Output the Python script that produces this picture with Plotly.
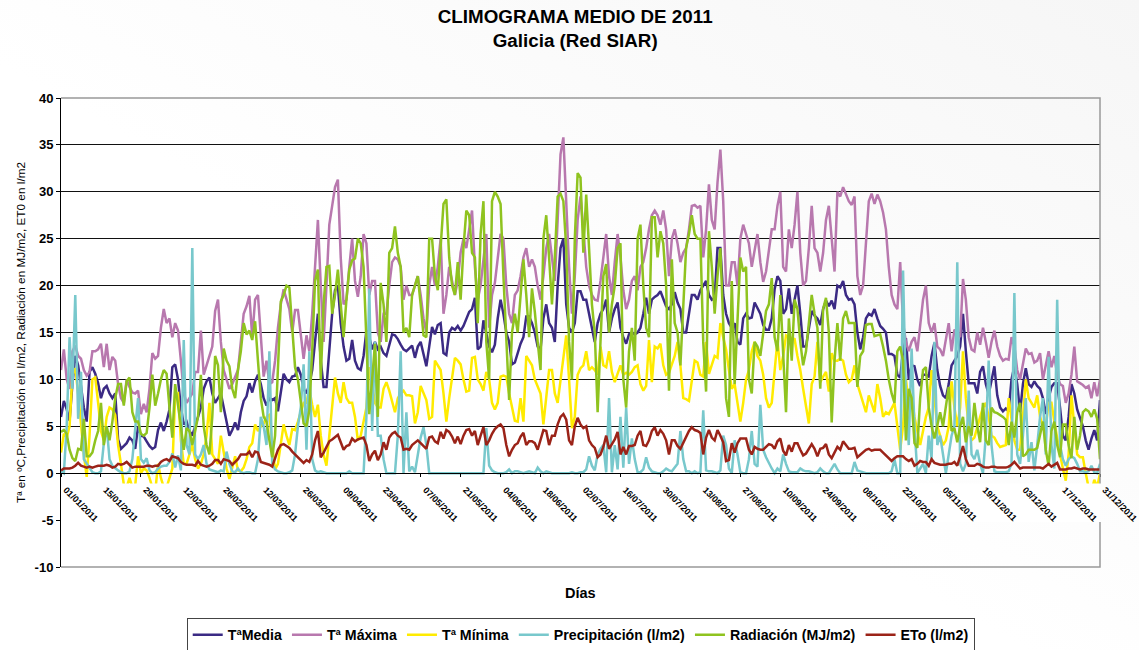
import base64
import pandas as pd
import plotly.graph_objects as go

DAYS = [d.strftime("%Y-%m-%d") for d in pd.date_range("2011-01-01", "2011-12-31")]
Y_TICKS = [-10, -5, 0, 5, 10, 15, 20, 25, 30, 35, 40]
Y_LABELS = ["-10", "-5", "0", "5", "10", "15", "20", "25", "30", "35", "40"]

MEDIA = [
6.0,7.7,6.8,5.6,9.5,12.5,11.5,9.0,7.0,5.5,10.8,11.3,10.6,9.6,
8.0,9.0,9.3,8.5,8.0,8.5,3.6,2.6,2.9,3.2,3.8,3.5,2.6,5.0,
4.0,3.9,3.4,2.9,2.6,2.8,4.6,5.4,4.5,5.5,6.8,11.3,11.6,10.0,
7.0,5.2,5.5,4.5,4.0,5.0,6.0,7.0,9.0,9.8,10.2,8.5,7.5,8.0,
8.5,7.0,5.5,4.0,4.6,5.4,4.6,6.5,7.7,8.2,9.6,8.6,9.8,10.5,
9.5,8.0,7.2,8.0,7.8,8.0,6.6,8.5,10.6,10.0,9.7,10.3,10.4,11.3,
10.5,9.0,8.5,9.5,11,14,17,12,9.2,9.2,13,17,19.5,20,
16,13.5,12,12.2,14.2,12,11.2,11,12.5,15.2,14.5,13.2,14,13.2,
13.5,12.8,12.5,13.8,14.8,14.7,14.3,13.7,13.2,13,13.3,13.6,12.3,13.5,
14,12.5,11.4,13.5,15.6,14.8,15.8,16,12.8,12.6,15,15.5,15.3,15.7,
15.2,15.7,16.5,17.2,17.5,18.7,13.2,13.5,16.3,15,13.5,12.9,13.7,16.5,
18.5,17,15,14,11.6,11.8,12.8,13.8,14.5,16.7,16.7,16,15,13.5,
13.2,16.5,18,16,15.5,14,20,24,25,18,15.5,15,16,19.4,
19.4,18.5,18.5,17,15.5,14,16,17,17.5,18.5,15,16.5,17.5,18.2,
15.5,14.5,13.8,14.8,15,14.8,15,15.5,17,18.7,17,18.5,18.8,19,
19.4,18.5,17.8,17.5,18,19.3,18.2,17.5,15,15,17,19,19,18.5,
19.5,20,20.5,19,18.5,18.7,24,24,19,17,16,15.5,16,14,
13.7,16.5,17,16.5,16.6,18.2,17.6,17,15.8,15.3,15.3,16.5,19.6,21,
20.5,17,17.5,19.7,17,18.5,20,17,13.5,13.5,15.5,17.3,16.8,16.5,
15.8,17.5,18.4,17.8,18.4,17.5,20,19.8,20.5,19,18.5,18.6,18,15,
13.2,14.5,16.5,17,16.8,17.5,16.5,15.7,15.4,15,12.7,12.7,12.5,10.5,
10.2,13,14.4,10,11.5,11.4,10,9.3,10.5,10.5,10.3,12.5,13.9,11,
9.3,8.3,8,9.5,11.5,12,12.5,13.5,17,13,9.6,9.6,9.6,8.5,
10.8,11.4,9.5,8.4,9.8,11.4,8.3,7,6.6,6.9,6.6,10,11.4,9.5,
6.5,9.5,11.2,9.5,9.2,9.8,9.3,9,8,6.3,8,9.2,9.6,9.6,
7,4,3.5,6,9.5,8.5,6.8,6,5,3.5,2.5,3.7,4.6,3.5,
7.8]

MAXIMA = [
11,13.2,10,9,13,13.6,12.5,12.2,11,10.4,10.8,13,13,13.2,
13.8,11.3,13.8,11,12.4,12,9.5,8,7.5,10,9.2,8.6,8.5,8.8,
6.3,7.4,6.5,9,12.8,12.2,12.5,15.5,17.5,16,16.5,14.5,16,15.2,
12,8.5,7.5,8,8.5,10.8,10.8,15.2,10.5,11.5,12.5,13.5,17.3,18.5,
14,11,10,9,9.5,10.2,11,14,17,17.8,18.9,14.5,18.5,19,
14,10.3,12,9.5,9.7,12,15.5,18,19.6,18.5,17.5,15,17.4,17.4,
15,12.2,14.7,13,17,21.5,27,20,14,20,26.5,28.5,30.5,31.3,
23,18,18.5,22,25,20.5,18.8,21,25.5,24.5,19,20.5,20.5,15,
14,17,17,20,22.5,23,22.8,22,18.5,20,19,19,20,21,
19,16.5,15,20,22,20,22,25,17,19,22,20.5,19,20.5,
23.5,25,24,26,28,22,18.5,20,23,25.5,15.5,19,20.3,23,
25.5,25,20,17,16,19,19.5,21,23,24,22,22.8,22,20,
18.5,21,24,25.5,23,20.5,27,34,35.8,29,22,17,21,27,
29.5,26,22,20,19,18.5,18.4,20.5,23,25.5,21,19,22.5,25.5,
23,19.5,17.5,18.5,20.5,21,19.5,22,22.5,24,26,27.5,28,27.5,
26.5,28,26,21,25,26,24.5,22.5,23.5,24,26,28.5,28.6,28.3,
28.5,23,26,30.8,27,26,31,34.5,29,20,20,22.5,22.5,20,
25,26.5,25.5,24.5,22,24,25.5,22.5,20.4,21.5,24,26,26,28.5,
30,22,21.5,26,24,26.5,30,23.5,20,20.5,24,28.5,24,23.5,
21.5,23.5,27,28.5,25,21.5,30,29.5,30.5,29.8,29,28.6,29.5,21,
19,20,25,29,29.8,28.7,29.7,29,27.8,26,22,19,18,17.5,
22.5,16,14,13,14,14.5,13,15.5,18.5,20,16,15,16,13.5,
13.2,12.5,14.5,16,13,15.3,15,14.5,20.7,18.5,14.5,13.2,13,15,
13.7,15.5,14,12.3,14,15.2,13.5,12.5,12,12.2,12.1,14.5,13.5,11,
10,11.5,13.3,12.7,12.8,11.8,12,12.8,10,11.5,13,11.3,12.5,10.5,
9.5,9.3,7.5,8.5,10.5,13.5,9.8,9.6,9.4,9.1,9.3,8,9.7,8.2,
10]

MINIMA = [
2.2,4.2,3.8,5,10.5,11.2,8.5,5,2,-0.4,4,10,10.2,7.5,
4.5,3.5,6,7,6.8,6.2,3,1,-1.2,-1.5,-0.5,-1.5,-1.3,1.8,
0,0.5,0.3,-0.5,-1.5,-2,1,-0.5,-1.5,-1.5,-0.5,0.5,8.3,8.5,
3.5,1,1,2,3,1.5,0.5,1,2,4,7.5,2,1.5,1,
4,2,0.5,-0.6,0.5,1.8,0.3,0.2,0.6,1.5,2.8,3.2,5.2,4.5,
5,5.3,6,6.2,3,0.4,1,3,5.2,4,3,4.7,4.6,5.5,
6.5,7.5,7.5,9,7.3,6,7.3,4,2,0.8,4,7,10.2,8.5,
7.5,9.7,8,7.5,7.5,6,3.5,4,5.5,7,11.3,9.5,7.5,7,
7,9,9.7,8.8,7.5,6.5,8,8.5,8.8,8.3,8.3,8.2,5.3,6.5,
9.3,8.5,7.8,5.8,6,12,11.5,11,8.5,5.5,8,10,12.3,12,
11.6,10,8.7,8.8,12.3,12.4,10,9.5,8.8,10.8,10,7.5,6.8,7.5,
10.3,10.4,10.3,8.5,7,5.6,5.5,8,5.5,12.5,12,11.5,10,9.2,
8.5,5.2,8,11,11,8.5,7.5,10,12.5,14.7,10,4.8,6,10.5,
11.2,11.5,13,11,11.3,11,10.5,13.5,11.5,11.3,13,10.8,9.7,10.5,
11.5,10.5,10.7,10.5,10.8,11.3,11.5,9.5,8.8,9.3,14.2,9.7,13.5,13.3,
13.8,11.5,10.5,10.7,11.5,12.5,14,11.5,8,7.9,7.7,10,12,11.8,
10.5,10.3,14,10.6,11.5,12.5,12.3,16,14.5,13.2,11,9,9.5,7.5,
5.5,7.5,10,11,13,14,12.5,12,10.5,8,7,7.5,10.5,14.2,
11,12.5,14.7,14.5,14.4,14.3,12.5,11,9,7,5.3,9.5,10.3,14,
9.7,10.3,10.8,8.7,12.8,12,12,12.2,12,10.5,9.7,10,11.5,9.5,
8.5,7.5,6.5,8.3,7.5,6.5,9.5,8,6,6.5,6.3,7,7.5,5,
2.5,5,10,7.5,8.2,6,4.5,3,4.5,6,7,11,8,5,
4,3,3.5,5,9.8,7,5,7,13,8,5,3.5,3.8,5,
6,7,7.5,6,4,3.8,3.2,2.8,2.9,3,8,6,3.5,2.5,
2.5,6,10,8,7.5,7,8.3,6,5,5,7.5,7.5,5.5,3.5,
2,0.5,-0.8,2,8.3,5,2,1.7,1.7,0,-1.5,-2,-0.7,-1.5,
0]

PRECIP = [
0.2,0,5,14.5,9,19,5.8,10.8,1.5,1,0.5,0.1,0,0,
0.2,3.2,5,1.5,0.8,0.5,0.3,0.1,0,0,0.2,1.5,5,8,
1.5,1.1,1.6,0.3,0,0.1,0.5,0.7,0.8,0.8,1.2,2.1,0.6,1.9,
0.3,14.2,3,2,24,2,1.5,2,3,1,0.4,0.3,0.2,0.1,
0.3,0.2,2.3,1,0.2,0.1,0.5,0.1,0,0.1,0.1,0,0,1.5,
6,5,3,13,1,0.4,0.2,0.1,0,0,0.1,0.3,2,5,
7,11.6,2.5,13,1.5,0.3,0.1,0.2,0.1,0,0,0,0,0,
0,0,0,0.2,0,0,0,0,0,6,19.7,4.5,14,4,
4,1.5,0,0,0,0,4,13,0,6.5,0.2,0.7,0.1,2,
3.8,4.9,3,0,0,0,0,0,0,0,0,0,0,0,
0,0,0,0,0,0,0,0,0,4.8,0.8,0.3,0.1,0,
0,0,0.1,0.4,0,0.2,0.2,0.1,0,0.1,0.2,0.1,0,0.6,
0.2,0,0.2,0.1,0,0,0,0,0,0,0,0.1,0,0,
0.1,0.1,0.4,1.8,0.8,0.3,2,2.6,3,0.1,8,0.1,3,0.4,
6,0.6,7,1,3.7,1.5,0.1,0.1,0.4,1.7,0.6,0.2,0.1,0,
0,0.2,0.5,0.3,0.2,0.6,1,4.5,1.5,0.2,0.2,0,0.2,0,
0.1,6.7,0.3,0.2,0.2,0.1,0,0.3,4,3,0.5,0,3.5,2,
0.1,0,0,1.5,4.5,1,0.7,7.3,2.5,1.7,1,0.5,0,0.5,
0.2,2,1,0.2,0.1,0.1,0.1,0.5,0.3,0.2,0.2,0.1,0,0.1,
0.5,0.2,0,0,0.5,1,0.4,0,0,0,0,0,1.2,0.3,
0.2,0.1,0,0,0,0,0,0,0,0,0,0.2,1.5,0,
0,21.6,8,3,13.3,5,0,0.5,1,0,4,1.5,14,3,
4,2,0,2,4,5,22.5,1,0.2,1,8.8,2,1.5,2.5,
1,0,4,12,3,0.2,0.1,0.1,0.1,0.1,0.2,1,19.2,2,
1,4,8,1.2,3.3,0.3,3,6,8,2,12.4,3,0.5,18.5,
3,1.5,0.8,1.5,1.8,1.6,1,0.2,0.2,0.1,0.2,0.8,0.1,0,
1]

RADIACION = [
4.4,4.6,4.2,2.5,1.6,1.3,2.6,2.5,5.8,1.8,1.8,2.2,3.5,4.5,
7.5,3,5,3.5,5.5,8,9.5,9.5,7.2,9.8,10.2,6.5,5.5,5.5,
4.2,4,4.3,7,10.5,7.2,8.5,10,11,10.6,7,3.8,9.5,7.5,
5,2.5,4.8,4.5,3,4.5,6,10.5,5,3,2,6,12.5,11.5,
6.5,13.3,12,11.4,9,8,11,13,16,14.8,15.2,14.2,16.2,12,
8,6,5.5,3.5,1.7,4,12,18.3,19,20,19.8,15,11.3,10,
7.5,5.3,5,6.7,13,20.5,21.7,10,18,22,22.1,17,19,21.7,
18,14.5,18.5,21.7,22.7,22.9,25,24.5,22,15,6.3,10,13.8,6,
20.3,18,14,23.5,24,26.3,23.5,22,15,15.5,14.5,19,20,21,
18,14.7,14.5,25,25,21,19.5,24.5,28.7,29.2,23,20,19,22.5,
18.5,24,28,27.5,23.5,23,16,25.5,29,14,10,29,30,29.5,
28.7,21,14,7.8,15,17,15,19,22.8,19,14.5,19.7,17.2,14,
11,25,27.5,23,18,23,29.5,29.8,29,24,14,10,25,32,
31.5,23.5,29.7,24,18,15,6.5,14,21,22.3,15,18,20,24,
24.5,10,7,13,15.5,12,25,26.5,20,15.5,14.5,27.3,27.3,23,
25.8,24.5,20,8.8,22.8,16,15,11.5,18,24,25.5,27.5,25.5,25,
25,14,8.7,25.8,22,17,21,24,16,8,6,20.5,9.5,16,
23,21.5,22,10,8.5,14,13.5,12.5,15,17.3,18,20.8,14.5,13,
19,13,6.5,16.5,12,18.5,17.5,14,11.5,13,16,19,17,15.5,
9,17.5,18.7,15,5.4,12,16,12,16.5,17.3,16,16,16,9.2,
12.5,13,15.8,15.9,15.9,14.6,14.7,14.8,13.5,12,10,8.5,7.5,13,
13.5,12,3.5,9,8,3.2,2.7,8,11,11.3,7,5,3.7,5,
6.5,5,7,9.2,4.5,4.8,3.3,5,6,3.3,5,4,7.5,5,
3.3,7.5,3.5,3,7,6.5,6.4,6.2,6,5.7,3,5.5,3.8,6.5,
7.5,1.8,2,2.5,2.5,2.5,2.7,4,5.5,2.5,0.8,4.5,5.5,3,
1.7,5.2,5.2,3,1.6,6,2.5,4,6.5,6.8,6.6,6,6.8,5.8,
1.5]

ETO = [
0.3,0.5,0.5,0.5,0.6,0.8,1.1,0.8,0.7,0.6,0.7,0.6,0.7,0.8,
0.8,0.8,0.9,0.8,0.6,0.7,1,0.9,1,1.2,0.9,0.6,0.7,0.7,
0.7,0.7,0.8,0.8,0.7,0.8,0.8,1.2,1.4,1.5,1.3,1.8,1.7,1.6,
1.2,1,0.9,0.9,0.9,0.8,1.3,0.9,0.8,0.7,0.8,1,1.4,1.4,
1,1.5,1.4,1.3,0.9,1.2,1.5,2,2,2,2.3,1.7,2.3,2.2,
1.2,1.1,1,0.9,0.7,1.5,2.5,3,3.1,2.9,2.7,2.3,2,1.6,
1.3,1.1,1.4,1.2,2,3.5,4.5,1.7,2.2,2.8,3.4,3.6,3.9,4.1,
3.3,2.5,2.9,3,3.7,3.4,3.6,3.7,3.8,3,1.3,2,2.4,1.4,
2,3.3,2.5,3.8,4.2,4.4,4,3.8,2.5,2.6,2.5,3,3.3,3.5,
3.2,2.9,2.6,3.8,3.9,3.4,3.2,4.4,3.7,4.6,4.4,3.9,3.2,3.9,
3.1,4,4.6,4.7,4,4.5,3,4,4.9,3,3.5,4.2,4.7,5,
5.2,4.8,3,1.8,2.5,3,3.2,3.9,4.3,3,3.4,3.4,3.2,2.5,
3.5,4.6,4.5,3,4,4,5.2,6,6.3,5.7,3.5,3,5,5.9,
5.2,4.8,5,3.5,3,2.7,1.7,2,2.8,4,2.6,3.1,3.6,4.4,
2,2.8,2,2.9,2.9,3,4,4.5,3,2.9,3.5,4.5,4.9,4,
4.6,4.2,3.5,2,3.5,3.5,2.9,2.6,3.3,4,4.5,4.9,4.6,4.5,
4.3,2,3.8,4.6,3.8,3.5,4.6,4,3.3,1.3,1.4,3.2,2.2,3.2,
3.7,3.7,3.7,2.5,2,2.8,2.6,2.5,2.5,2.8,3.1,3,2.6,3.4,
3.7,2.4,1.9,3,2.3,3.2,3.2,2.5,1.9,2.1,2.6,3.1,2.6,1.8,
2.6,2.7,3.1,2,1.6,2.2,2.8,2.5,3.4,3,2.6,2.6,2.7,1.7,
2,2.2,2.5,2.6,2.4,2.5,2.5,2.5,2.2,1.9,1.7,1.3,1.6,1.8,
1.8,1.8,1.5,1.3,1.5,0.8,1,1.3,1.2,1.2,0.8,1.5,1.1,1,
0.9,0.9,0.9,1,1,1.2,0.8,1.8,2.9,1.5,0.8,0.8,0.8,1,
0.9,0.7,0.6,0.6,0.7,0.7,0.6,0.6,0.6,0.6,0.7,0.9,1.2,0.8,
0.5,0.6,0.6,0.6,0.6,0.6,0.6,0.6,0.5,0.8,1,0.7,0.9,1.1,
0.4,0.4,0.4,0.5,0.5,0.6,0.5,0.4,0.5,0.5,0.4,0.4,0.4,0.4,
0.4]

for s in (MEDIA, MAXIMA, MINIMA, PRECIP, RADIACION, ETO):
    assert len(s) == 365, len(s)

SERIES = [
    ("TªMedia", MEDIA, "#3B2A84"),
    ("Tª Máxima", MAXIMA, "#B878AE"),
    ("Tª Mínima", MINIMA, "#FFEB00"),
    ("Precipitación (l/m2)", PRECIP, "#78C8CC"),
    ("Radiación (MJ/m2)", RADIACION, "#8FC31F"),
    ("ETo (l/m2)", ETO, "#9B2318"),
]

W, H, L, R, T, B = 1139, 650, 61, 39, 98, 83
PW, PH = W - L - R, H - T - B

fig = go.Figure()
for name, vals, col in SERIES:
    fig.add_trace(go.Scatter(x=DAYS, y=vals, name=name, mode="lines",
                             line=dict(color=col, width=2.5)))

# Excel paints the date labels on an opaque band that hides what lies under it.
fig.add_trace(go.Scatter(x=[DAYS[0], DAYS[-1], DAYS[-1], DAYS[0]], y=[-1.1, -1.1, -5.2, -5.2],
                         fill="toself", fillcolor="#ffffff", mode="none",
                         showlegend=False, hoverinfo="skip"))

# Pale diagonal wash of the page background.
svg = ('<svg xmlns="http://www.w3.org/2000/svg" width="1139" height="650">'
       '<defs><linearGradient id="g" x1="0" y1="1" x2="1" y2="0">'
       '<stop offset="0.45" stop-color="#ffffff"/><stop offset="1" stop-color="#f6f6f6"/>'
       '</linearGradient></defs><rect width="1139" height="650" fill="url(#g)"/></svg>')
BG = "data:image/svg+xml;base64," + base64.b64encode(svg.encode()).decode()

F = "Liberation Sans, Arial, sans-serif"
fig.update_layout(
    width=W, height=H,
    margin=dict(l=L, r=R, t=T, b=B, autoexpand=False),
    paper_bgcolor="#ffffff", plot_bgcolor="rgba(0,0,0,0)",
    font=dict(family=F, color="#000000"),
    images=[dict(source=BG, xref="paper", yref="paper", x=-L / PW, y=(PH + T) / PH,
                 sizex=W / PW, sizey=H / PH, sizing="stretch", xanchor="left",
                 yanchor="top", layer="below")],
    title=dict(text="<b>CLIMOGRAMA MEDIO DE 2011</b><br><b>Galicia (Red SIAR)</b>",
               x=0.505, xanchor="center", y=0.965, yanchor="top",
               font=dict(size=18.8)),
    showlegend=True,
    legend=dict(orientation="h", x=0.121, xanchor="left", y=-0.109, yanchor="top",
                bgcolor="#ffffff", bordercolor="#444444", borderwidth=1,
                font=dict(size=14.2, family=F, weight="bold"), itemwidth=30,
                traceorder="normal"),
    xaxis=dict(
        type="date", range=[DAYS[0], DAYS[-1]],
        tick0=DAYS[0], dtick=14 * 86400000, tickformat="%d/%m/%Y", tickangle=45,
        tickfont=dict(size=9, family=F, weight="bold"),
        anchor="free", position=0.2, automargin=False,
        showgrid=False, showline=True, linecolor="#000000", linewidth=1,
        ticks="outside", ticklen=3, tickcolor="#000000",
        ticklabelstandoff=4, ticklabelshift=5,
    ),
    yaxis=dict(
        range=[-10, 40], tickmode="array", tickvals=Y_TICKS, ticktext=Y_LABELS, automargin=False,
        tickfont=dict(size=13, family=F, weight="bold"),
        gridcolor="#111111", gridwidth=1, zeroline=False,
        showline=True, linecolor="#000000", linewidth=1,
        ticks="outside", ticklen=4, tickcolor="#000000",
        title=dict(text="Tª en ºC,Precipitación en l/m2, Radiación en MJ/m2, ET0 en l/m2",
                   font=dict(size=11.8), standoff=5.5),
    ),
    annotations=[dict(text="<b>Días</b>", xref="paper", yref="paper", x=0.5, y=-0.055,
                      xanchor="center", yanchor="middle", showarrow=False,
                      font=dict(size=14.5))],
    shapes=[dict(type="path", xref="paper", yref="paper",
                 path="M 0 1 L 1 1 L 1 0.178 M 1 0.096 L 1 0 L 0 0",
                 line=dict(color="#999999", width=1.5), layer="above")],
)

fig.write_html("out.html", post_script="document.body.style.margin='0';",
               config=dict(displayModeBar=False))
